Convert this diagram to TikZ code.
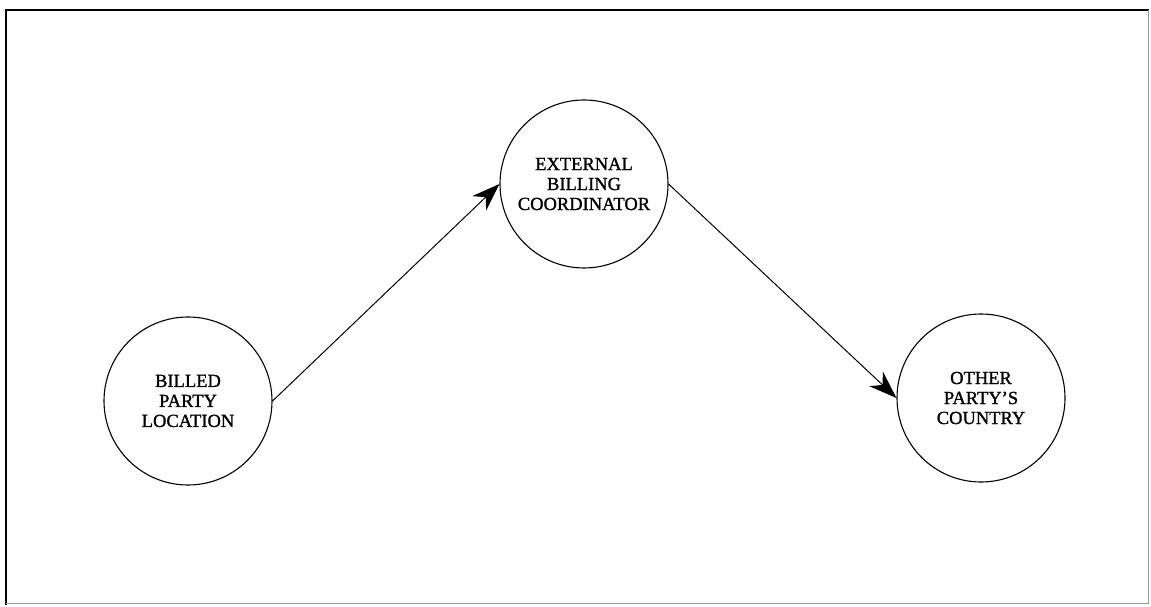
\documentclass[tikz,border=0pt]{standalone}
\usepackage{fontspec}
\setmainfont{Liberation Serif}
\newfontfamily\scanfont[FakeBold=1.2]{Liberation Serif}
\usetikzlibrary{arrows.meta}

\begin{document}
\begin{tikzpicture}[x=1pt,y=1pt,
		place/.style={draw=black, line width=1.1pt, circle, minimum size=168pt, inner sep=0pt, align=center, font=\scanfont\fontsize{18.5}{20}\selectfont},
		flow/.style={line width=1pt, -{Stealth[length=28pt,width=20pt,inset=9pt]}}]
			\useasboundingbox (0,0) rectangle (1151,606);
			% frame
			\draw[line width=2pt] (6,596) -- (1149,596);
			\draw[line width=2.6pt] (6,597) -- (6,1);
			\draw[line width=0.4pt, black!40] (1148,596) -- (1148,3) -- (6,3);
			
			\node[place] (billed) at (188,205) {BILLED\\PARTY\\LOCATION};
			\node[place] (coord) at (584,422) {EXTERNAL\\BILLING\\COORDINATOR};
			\node[place] (other) at (981,208) {OTHER\\PARTY’S\\COUNTRY};
			
			\draw[flow] (billed.east) -- (coord.west);
			\draw[flow] (coord.east) -- (other.west);
		\end{tikzpicture}
\end{document}
